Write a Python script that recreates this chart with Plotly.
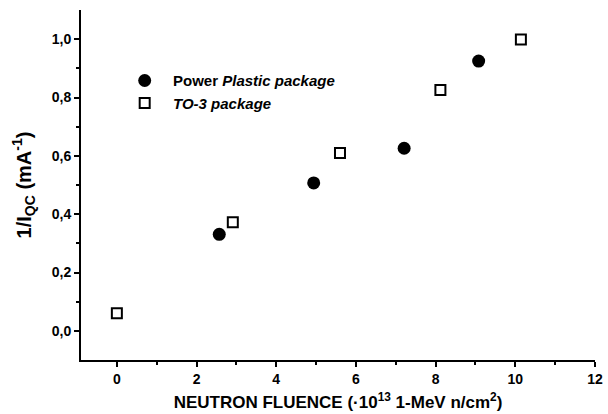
import plotly.graph_objects as go

pp_x = [2.57, 4.94, 7.21, 9.08]
pp_y = [0.331, 0.507, 0.626, 0.925]
to3_x = [0.0, 2.91, 5.6, 8.12, 10.14]
to3_y = [0.06, 0.372, 0.61, 0.826, 0.999]

FONT = "Liberation Sans, Arial, sans-serif"

fig = go.Figure()
fig.add_trace(go.Scatter(x=pp_x, y=pp_y, mode="markers",
                         name="&nbsp;&nbsp;<b>Power <i>Plastic package</i></b>",
                         marker=dict(symbol="circle", size=13, color="black")))
fig.add_trace(go.Scatter(x=to3_x, y=to3_y, mode="markers",
                         name="&nbsp;&nbsp;<b><i>TO-3 package</i></b>",
                         marker=dict(symbol="square-open", size=10, color="black",
                                     line=dict(width=2, color="black"))))

axis_common = dict(showline=True, linewidth=2, linecolor="black", mirror=False,
                   ticks="outside", ticklen=5, tickwidth=2, tickcolor="black",
                   showgrid=False, zeroline=False, ticklabeloverflow="allow",
                   tickfont=dict(family=FONT, size=14, color="black", weight="bold"))

fig.update_layout(
    width=608, height=414,
    margin=dict(l=81, r=5, t=10, b=54),
    paper_bgcolor="white", plot_bgcolor="white",
    separators=",.",
    showlegend=True,
    legend=dict(x=0.085, y=0.845, xanchor="left", yanchor="top",
                bgcolor="rgba(0,0,0,0)", font=dict(family=FONT, size=15, color="black"),
                itemwidth=30, tracegroupgap=0),
    xaxis=dict(range=[-0.9, 12], tickvals=[0, 2, 4, 6, 8, 10, 12],
               minor=dict(tickvals=[1, 3, 5, 7, 9, 11], ticks="outside", ticklen=3,
                          tickwidth=2, tickcolor="black"),
               title=dict(text="<b>NEUTRON FLUENCE (·10<sup>13</sup> 1-MeV n/cm<sup>2</sup>)</b>",
                          font=dict(family=FONT, size=17, color="black"), standoff=10),
               **axis_common),
    yaxis=dict(range=[-0.1, 1.1], tickvals=[0, 0.2, 0.4, 0.6, 0.8, 1.0], tickformat=".1f",
               minor=dict(tickvals=[0.1, 0.3, 0.5, 0.7, 0.9], ticks="outside", ticklen=3,
                          tickwidth=2, tickcolor="black"),
               title=dict(text="<b>1/I<sub>QC</sub> (mA<sup>-1</sup>)</b>",
                          font=dict(family=FONT, size=20, color="black"), standoff=15),
               **axis_common),
)

fig.write_html("out.html")
